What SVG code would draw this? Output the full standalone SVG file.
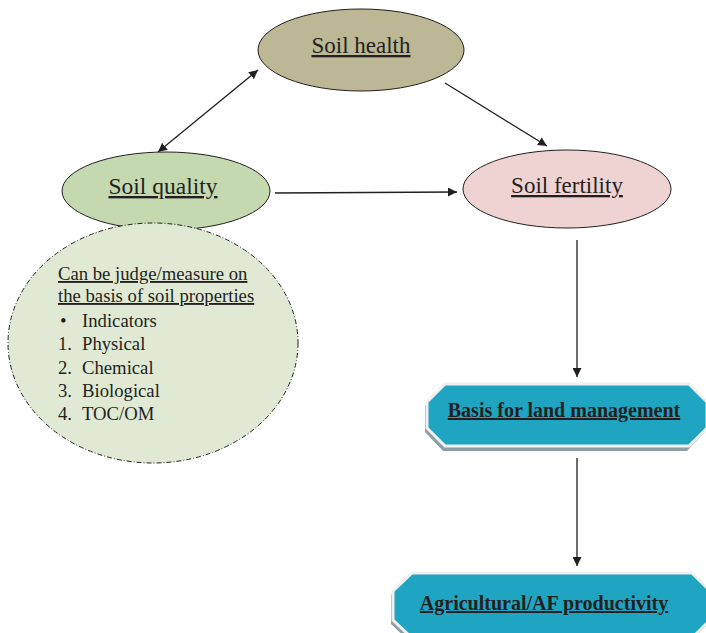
<svg xmlns="http://www.w3.org/2000/svg" width="706" height="633" viewBox="0 0 706 633">
<defs>
<style>
.t{font-family:"Liberation Serif","Times New Roman",serif;fill:#231f20;}
.u{text-decoration:underline;}
.ell{stroke:#231f20;stroke-width:1;}
.ln{stroke:#231f20;stroke-width:1.3;fill:none;}
.box{fill:#1fa4c1;stroke:#eef0f2;stroke-width:3;}
.sh{fill:#8d9ea6;}
</style>
<marker id="ah" viewBox="0 0 10 10" refX="10" refY="5" markerWidth="9" markerHeight="9" markerUnits="userSpaceOnUse" orient="auto-start-reverse">
<path d="M0,0 L10,5 L0,10 z" fill="#231f20"/>
</marker>
</defs>
<rect width="706" height="633" fill="#ffffff"/>
<g id="connectors">
<line class="ln" x1="158" y1="152" x2="258" y2="70" marker-start="url(#ah)" marker-end="url(#ah)"/>
<line class="ln" x1="445" y1="83" x2="547" y2="146" marker-end="url(#ah)"/>
<line class="ln" x1="275" y1="193" x2="457" y2="192" marker-end="url(#ah)"/>
<line class="ln" x1="577" y1="240" x2="577" y2="377" marker-end="url(#ah)"/>
<line class="ln" x1="577" y1="458" x2="577" y2="566" marker-end="url(#ah)"/>
</g>
<g id="soil-health">
<ellipse class="ell" cx="361" cy="50" rx="103" ry="41" fill="#bcb794"/>
<text class="t u" x="361" y="53" font-size="23" text-anchor="middle">Soil health</text>
</g>
<g id="soil-quality">
<ellipse class="ell" cx="166" cy="191" rx="104" ry="39" fill="#c4d9b0"/>
<text class="t u" x="163" y="194" font-size="23.5" text-anchor="middle">Soil quality</text>
</g>
<g id="soil-properties">
<ellipse cx="153" cy="343" rx="145" ry="120" fill="#e0e9d3" stroke="#231f20" stroke-width="1" stroke-dasharray="5,2,1,2"/>
<text class="t u" x="58" y="280" font-size="18.7">Can be judge/measure on</text>
<text class="t u" x="58" y="302" font-size="18.7">the basis of soil properties</text>
<text class="t" font-size="18.7">
<tspan x="60" y="327">•</tspan><tspan x="82" y="327">Indicators</tspan>
<tspan x="58" y="350">1.</tspan><tspan x="82" y="350">Physical</tspan>
<tspan x="58" y="374">2.</tspan><tspan x="82" y="374">Chemical</tspan>
<tspan x="58" y="397">3.</tspan><tspan x="82" y="397">Biological</tspan>
<tspan x="58" y="420">4.</tspan><tspan x="82" y="420">TOC/OM</tspan>
</text>
</g>
<g id="soil-fertility">
<ellipse class="ell" cx="567" cy="189" rx="104" ry="39" fill="#efd3d3"/>
<text class="t u" x="567" y="193" font-size="23" text-anchor="middle">Soil fertility</text>
</g>
<g id="land-management">
<polygon class="sh" points="443,388 687,388 705,406 705,432 687,451 443,451 425,432 425,406"/>
<polygon class="box" points="445,384 689,384 707,402 707,428 689,446 445,446 427,428 427,402"/>
<text class="t u" x="564" y="417" font-size="20" font-weight="bold" text-anchor="middle">Basis for land management</text>
</g>
<g id="productivity">
<polygon class="sh" points="410,577 690,577 708,595 708,624 690,642 410,642 391,624 391,595"/>
<polygon class="box" points="412,573 692,573 710,591 710,620 692,638 412,638 393,620 393,591"/>
<text class="t u" x="544" y="610" font-size="20" font-weight="bold" text-anchor="middle">Agricultural/AF productivity</text>
</g>
</svg>
